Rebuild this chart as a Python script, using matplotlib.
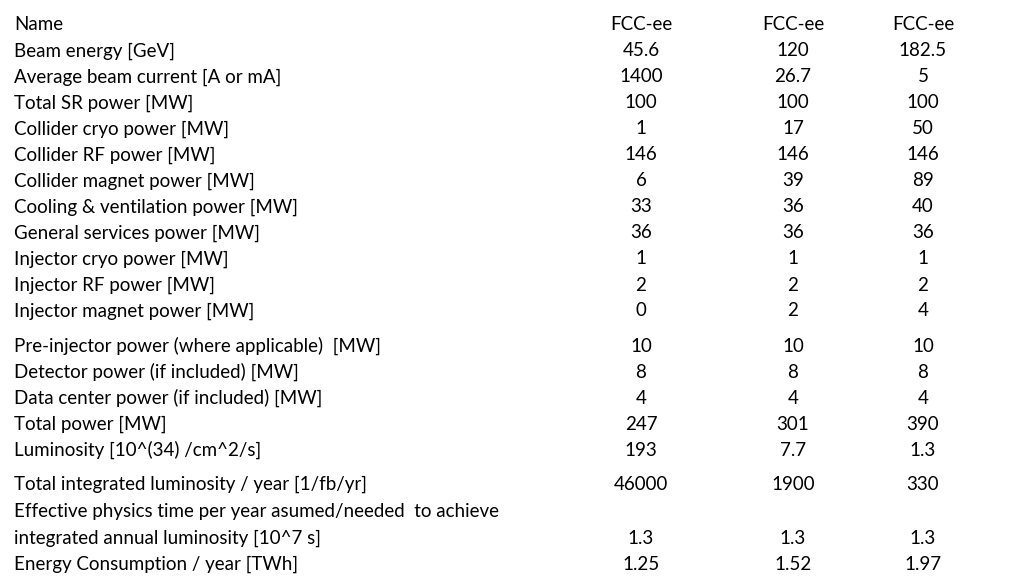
import matplotlib
matplotlib.use("Agg")
import matplotlib.pyplot as plt

labels = ["Name", "Beam energy [GeV]", "Average beam current [A or mA]", "Total SR power [MW]",
          "Collider cryo power [MW]", "Collider RF power [MW]", "Collider magnet power [MW]",
          "Cooling & ventilation power [MW]", "General services power [MW]", "Injector cryo power [MW]",
          "Injector RF power [MW]", "Injector magnet power [MW]",
          "Pre-injector power (where applicable)  [MW]", "Detector power (if included) [MW]",
          "Data center power (if included) [MW]", "Total power [MW]", "Luminosity [10^(34) /cm^2/s]",
          "Total integrated luminosity / year [1/fb/yr]",
          "Effective physics time per year asumed/needed  to achieve",
          "integrated annual luminosity [10^7 s]", "Energy Consumption / year [TWh]"]
col1 = ["FCC-ee", "45.6", "1400", "100", "1", "146", "6", "33", "36", "1", "2", "0", "10", "8", "4", "247", "193", "46000", "", "1.3", "1.25"]
col2 = ["FCC-ee", "120", "26.7", "100", "17", "146", "39", "36", "36", "1", "2", "2", "10", "8", "4", "301", "7.7", "1900", "", "1.3", "1.52"]
col3 = ["FCC-ee", "182.5", "5", "100", "50", "146", "89", "40", "36", "1", "2", "4", "10", "8", "4", "390", "1.3", "330", "", "1.3", "1.97"]

row_y = [25, 51, 77, 103, 129, 155, 181, 207, 233, 259, 285, 311, 346, 372, 398, 424, 450, 484, 512, 538, 564]
col_x = [641, 793, 923]

W, H = 1024, 576
fig = plt.figure(figsize=(W / 100, H / 100), dpi=100)
fig.patch.set_facecolor("white")
fs = 13.5
fam = ["Lato", "DejaVu Sans"]
for i, lab in enumerate(labels):
    y = 1 - row_y[i] / H
    fig.text(14 / W, y, lab, ha="left", va="center", fontsize=fs, family=fam, color="black")
    for cx, col in zip(col_x, [col1, col2, col3]):
        if col[i]:
            fig.text(cx / W, y, col[i], ha="center", va="center", fontsize=fs, family=fam, color="black")
fig.savefig("out.png", dpi=100)
